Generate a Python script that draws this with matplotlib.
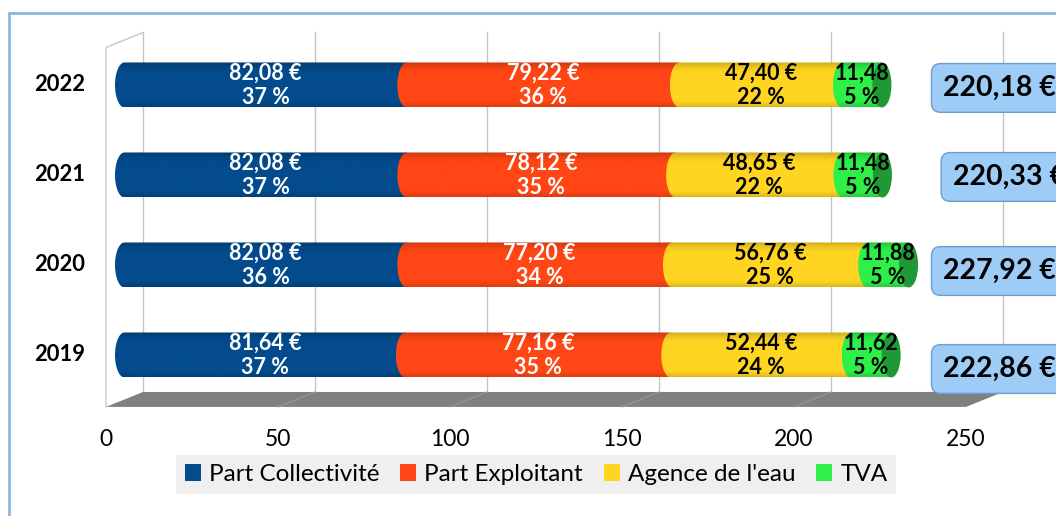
import numpy as np
import matplotlib
matplotlib.use("Agg")
import matplotlib.pyplot as plt
from matplotlib.patches import Polygon, Ellipse, Patch, Rectangle
from matplotlib.colors import to_rgb

plt.rcParams['font.family'] = ['Lato', 'DejaVu Sans']

# --- data ---
years = ['2019', '2020', '2021', '2022']
series = ['Part Collectivité', 'Part Exploitant', "Agence de l'eau", 'TVA']
collectivite = [81.64, 82.08, 82.08, 82.08]
exploitant = [77.16, 77.20, 78.12, 79.22]
agence = [52.44, 56.76, 48.65, 47.40]
tva = [11.62, 11.88, 11.48, 11.48]
pct_collectivite = [37, 36, 37, 37]
pct_exploitant = [35, 34, 35, 36]
pct_agence = [24, 25, 22, 22]
pct_tva = [5, 5, 5, 5]
totals = [222.86, 227.92, 220.33, 220.18]
xticks = [0, 50, 100, 150, 200, 250]

# --- style ---
colors = ['#034b8c', '#ff4614', '#ffd522', '#2ef048']
cap_color = '#1f9936'
text_colors = ['white', 'white', 'black', 'black']
with_euro = [True, True, True, False]

bar_h = 0.5        # bar thickness in category units
cap_w = 2.76       # half width of the cylinder end ellipse (value units)
depth_dx = 5.38    # oblique depth offset (value units)
depth_dy = 0.083   # oblique depth offset (category units)
floor_y = -0.494
wall_top = 3.5

# total label placement (value units / category nudges)
total_x = [237.9, 237.9, 240.7, 237.9]
total_dy = [-0.156, -0.067, -0.022, -0.033]


def fmt(v, euro=True):
    s = f"{v:.2f}".replace('.', ',')
    return s + ' €' if euro else s


def shade_profile(n=80):
    t = np.linspace(0, 1, n)
    f = 1 - 0.22 * np.clip((t - 0.75) / 0.25, 0, 1) ** 1.5
    f -= 0.14 * np.clip((0.12 - t) / 0.12, 0, 1)
    return f


fig = plt.figure(figsize=(10.56, 5.16), dpi=100)
ax = fig.add_axes([0, 0, 1, 1])
ax.axis('off')

# outer chart border
fig.patches.append(Rectangle((9 / 1056, -0.2), 2, 1.2 - 13 / 516, transform=fig.transFigure,
                             fill=False, edgecolor='#8fb5df', lw=2))

# back wall gridlines, floor and side wall
back_y = floor_y + depth_dy
front_y = floor_y - depth_dy
for v in xticks:
    ax.plot([v + depth_dx, v + depth_dx], [back_y, wall_top + depth_dy],
            color='#c4c4c4', lw=1, zorder=1)
ax.add_patch(Polygon([(xticks[0] - depth_dx, front_y), (xticks[-1] - depth_dx, front_y),
                      (xticks[-1] + depth_dx, back_y), (xticks[0] + depth_dx, back_y)],
                     closed=True, facecolor='#808080', edgecolor='none', zorder=1.5))
for v in xticks[1:-1]:
    ax.plot([v + depth_dx, v - depth_dx], [back_y, front_y], color='#989898', lw=0.8, zorder=1.6)
ax.plot([xticks[0] - depth_dx, xticks[0] - depth_dx, xticks[0] + depth_dx],
        [front_y, wall_top - depth_dy, wall_top + depth_dy], color='#c8c8c8', lw=1, zorder=1)

# stacked cylinders
prof = shade_profile()
segments = [collectivite, exploitant, agence, tva]
pcts = [pct_collectivite, pct_exploitant, pct_agence, pct_tva]
theta = np.linspace(np.pi / 2, 3 * np.pi / 2, 50)
for i, year in enumerate(years):
    left = 0.0
    for k, vals in enumerate(segments):
        w = vals[i]
        right = left + w
        y0, y1 = i - bar_h / 2, i + bar_h / 2
        xs = left + cap_w * np.cos(theta)
        ys = i + bar_h / 2 * np.sin(theta)
        pts = np.column_stack([np.r_[xs, right, right], np.r_[ys, y0, y1]])
        clip = Polygon(pts, closed=True, facecolor='none', edgecolor='none', transform=ax.transData)
        ax.add_patch(clip)
        rgb = np.array(to_rgb(colors[k]))
        img = np.clip(prof[:, None, None] * rgb[None, None, :], 0, 1)
        im = ax.imshow(img, extent=[left - cap_w, right, y0, y1], origin='lower',
                       aspect='auto', interpolation='bilinear', zorder=3 + k)
        im.set_clip_path(clip)
        ax.text(left + w / 2, i, f"{fmt(w, with_euro[k])}\n{pcts[k][i]} %",
                ha='center', va='center', fontsize=15.5, fontweight='bold',
                color=text_colors[k], linespacing=1.2, zorder=10)
        left = right
    ax.add_patch(Ellipse((left, i), 2 * cap_w, bar_h, facecolor=cap_color,
                         edgecolor='none', zorder=8))
    # total label
    ax.text(total_x[i], i + total_dy[i], fmt(totals[i]), ha='left', va='center',
            fontsize=20.5, fontweight='bold', color='black', zorder=11,
            bbox=dict(boxstyle='round,pad=0.4,rounding_size=0.32',
                      facecolor='#9dccf7', edgecolor='#6f9bcf', lw=1))
    # category label
    ax.text(-11.5, i, year, ha='right', va='center', fontsize=15.8, fontweight='bold')

# value axis labels on the front edge
for v in xticks:
    ax.text(v - depth_dx, -0.944, str(v), ha='center', va='center', fontsize=16.5)

handles = [Patch(facecolor=c, edgecolor='none') for c in colors]
leg = ax.legend(handles, series, loc='center', bbox_to_anchor=(536 / 1056, 1 - 474.5 / 516),
                bbox_transform=fig.transFigure, ncol=4, fontsize=17.5, frameon=True,
                fancybox=False, handlelength=0.66, handleheight=0.66, handletextpad=0.33,
                columnspacing=0.86, borderpad=0.37, borderaxespad=0)
leg.get_frame().set_facecolor('#ebebeb')
leg.get_frame().set_edgecolor('none')

ax.set_xlim(-36.19, 270.78)
ax.set_ylim(-1.789, 3.944)

fig.savefig('out.png', dpi=100)
